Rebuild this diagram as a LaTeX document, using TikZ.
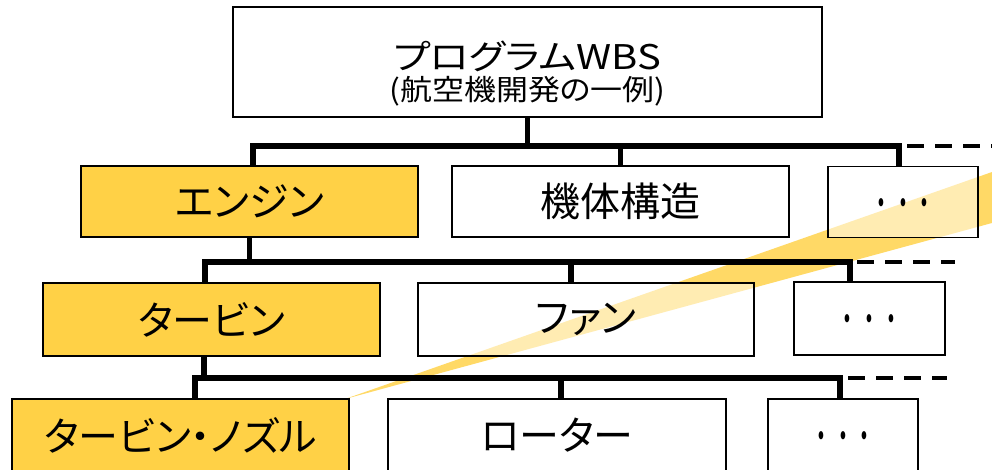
\documentclass[tikz,border=0pt]{standalone}
\usepackage{graphicx}
\usepackage{fontspec}
\newfontfamily\jp[RawFeature=+palt]{Noto Sans CJK JP}
\newfontfamily\jpm{Noto Sans CJK JP}
\definecolor{band}{RGB}{255,217,102}
\definecolor{boxyel}{RGB}{255,209,70}
\begin{document}
\begin{tikzpicture}[x=1pt,y=-1pt,
  boxbase/.style={draw=black, line width=1.8pt, inner sep=0pt,
    font=\jp\fontsize{40}{48}\selectfont},
  wbox/.style={boxbase, fill=white, fill opacity=0.5, text opacity=1, draw opacity=1},
  ybox/.style={boxbase, fill=boxyel},
  row1/.style={minimum height=71pt},
  row2/.style={minimum height=73pt},
  row3/.style={minimum height=72pt},
  dotsfont/.style={font=\jpm\fontsize{30}{36}\selectfont},
  conn/.style={line width=5.5pt},
  dashconn/.style={line width=4pt, dash pattern=on 17pt off 11pt}
]
\newcommand{\wdots}{\smash{\raisebox{-15pt}{\scalebox{0.73}[1.3]{・・・}}}}
\useasboundingbox (0,0) rectangle (992,469);
\clip (0,0) rectangle (992,469);

% highlight band
\fill[band] (345,399) -- (1000,169.2) -- (1000,220.8) -- cycle;

% top box
\node[boxbase, fill=white, minimum width=589pt, minimum height=110pt] (top) at (527.5,62) {};
\node[font=\jp\fontsize{40}{46}\selectfont, inner sep=0pt] (t1) at (527.5,56) {\scalebox{1}[0.85]{プログラムWBS}};
\node[font=\jp\fontsize{32}{38}\selectfont, inner sep=0pt] (t2) at (527.5,91) {\scalebox{1}[0.9]{(航空機開発の一例)}};

% row 1
\node[ybox, row1, minimum width=337pt] (a1) at (249.5,201.5) {エンジン};
\node[wbox, row1, minimum width=337pt] (a2) at (620.5,201.5) {機体構造};
\node[wbox, row1, minimum width=150pt, dotsfont] (a3) at (903,202) {\wdots};

% row 2
\node[ybox, row2, minimum width=337pt] (b1) at (211.5,319.5) {タービン};
\node[wbox, row2, minimum width=336pt] (b2) at (586,319.5) {ファン};
\node[wbox, row2, minimum width=151pt, dotsfont] (b3) at (869.5,318.5) {\wdots};

% row 3
\node[ybox, row3, minimum width=337pt] (c1) at (180.5,435) {タービン・ノズル};
\node[wbox, row3, minimum width=338pt] (c2) at (557,435) {ローター};
\node[wbox, row3, minimum width=150pt, dotsfont] (c3) at (843,435) {\wdots};

% bus coordinates
\coordinate (j1l) at (253,146);
\coordinate (j1r) at (899,146);
\coordinate (k1) at (907,146);
\coordinate (e1) at (995,146);

\coordinate (j2l) at (205,262);
\coordinate (j2m) at (571,262);
\coordinate (j2r) at (850,262);
\coordinate (k2) at (857,262);
\coordinate (e2) at (955,262);

\coordinate (j3l) at (195,378);
\coordinate (j3m) at (561,378);
\coordinate (j3u) at (204,378);
\coordinate (j3r) at (840,378);
\coordinate (k3) at (848,378);
\coordinate (e3) at (947,378);

% level 1 connectors
\draw[conn] (top.south) -- (top.south |- j1l);
\draw[conn] (a1.north -| j1l) -- (j1l) -- (j1r) -- (a3.north -| j1r);
\draw[conn] (a2.north) -- (a2.north |- j1l);
\draw[dashconn] (k1) -- (e1);

% level 2 connectors
\draw[conn] (a1.south) -- (a1.south |- j2l);
\draw[conn] (b1.north -| j2l) -- (j2l) -- (j2r) -- (b3.north -| j2r);
\draw[conn] (j2m) -- (b2.north -| j2m);
\draw[dashconn] (k2) -- (e2);

% level 3 connectors
\draw[conn] (b1.south -| j3u) -- (j3u);
\draw[conn] (c1.north -| j3l) -- (j3l) -- (j3r) -- (c3.north -| j3r);
\draw[conn] (j3m) -- (c2.north -| j3m);
\draw[dashconn] (k3) -- (e3);
\end{tikzpicture}
\end{document}
